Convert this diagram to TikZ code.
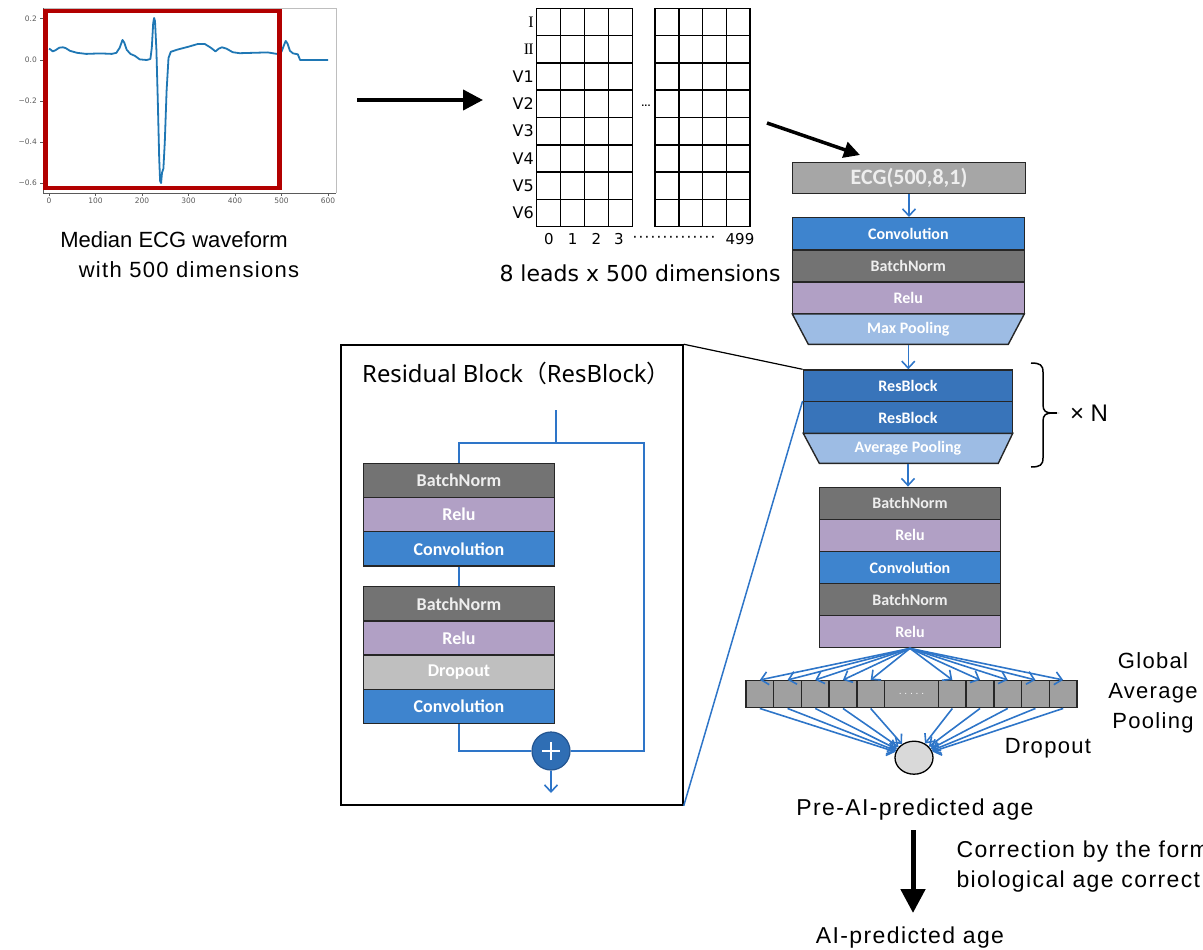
\documentclass[tikz,border=0pt]{standalone}
\usepackage{fontspec}
\setmainfont{Liberation Sans}
\newfontfamily\spaced{Liberation Sans}[LetterSpace=6]
\newfontfamily\verd{DejaVu Sans}
\newfontfamily\calib{Carlito}
\newfontfamily\latnoto{Noto Sans}
\newfontfamily\jpfont{Noto Sans CJK JP}
\newfontfamily\romanfont{Liberation Serif}
\usetikzlibrary{arrows.meta,shapes.geometric}
\newcommand\setfs[1]{\fontsize{#1}{#1}\selectfont}

\definecolor{convblue}{RGB}{62,132,206}
\definecolor{bngray}{RGB}{115,115,115}
\definecolor{bntext}{RGB}{238,238,238}
\definecolor{relupurple}{RGB}{177,160,197}
\definecolor{poolblue}{RGB}{157,188,228}
\definecolor{resblue}{RGB}{56,116,186}
\definecolor{dropgray}{RGB}{191,191,191}
\definecolor{ecggray}{RGB}{166,166,166}
\definecolor{cellgray}{RGB}{160,160,160}
\definecolor{linkblue}{RGB}{46,117,200}
\definecolor{plusblue}{RGB}{47,110,180}
\definecolor{plusedge}{RGB}{35,85,145}
\definecolor{edge}{RGB}{38,38,38}
\definecolor{boxred}{RGB}{178,0,0}
\definecolor{traceblue}{RGB}{31,119,180}
\definecolor{axisdark}{RGB}{90,90,90}
\definecolor{axislight}{RGB}{190,190,190}
\definecolor{neuron}{RGB}{217,217,217}

\begin{document}
\begin{tikzpicture}[x=1pt,y=-1pt,
  layer/.style={draw=edge, line width=1.4pt, inner sep=0pt, text=white,
                font=\calib\bfseries\setfs{16}},
  conv/.style={layer, fill=convblue},
  bnorm/.style={layer, fill=bngray, text=bntext},
  relu/.style={layer, fill=relupurple},
  resb/.style={layer, fill=resblue},
  dropl/.style={layer, fill=dropgray},
  plain/.style={inner sep=0pt},
  barb/.style={draw=linkblue, line width=1.6pt, -{Straight Barb[length=7pt,width=13pt]}},
  bline/.style={draw=linkblue, line width=1.8pt},
  bigarrow/.style={draw=black, line width=4pt, -{Triangle[length=20pt,width=20pt]}},
  cell/.style={draw=edge, fill=cellgray, line width=1.5pt, minimum width=27.7pt,
               minimum height=27pt, inner sep=0pt},
  lbl/.style={font=\spaced\setfs{22}},
  ticklbl/.style={font=\verd\setfs{7.5}, text=axisdark, inner sep=0pt},
  rowlbl/.style={font=\verd\setfs{16}, anchor=east, inner sep=0pt},
  collbl/.style={font=\verd\setfs{15}, inner sep=0pt},
  gridline/.style={draw=black, line width=1.5pt}
]
\useasboundingbox (0,0) rectangle (1203,950);
\clip (0,0) rectangle (1203,950);

% ---------- median ECG waveform plot ----------
\draw[axislight, line width=0.8pt] (43,8) -- (336,8) -- (336,193);
\draw[axisdark, line width=0.8pt] (43,8) -- (43,193) -- (336,193);
\foreach \yy/\tl [count=\k] in {18.3/0.2,60/0.0,101/−0.2,142/−0.4,183/−0.6}{
  \draw[axisdark, line width=0.8pt] (40,\yy) -- (43,\yy);
  \node[ticklbl, anchor=east] (ytick\k) at (37,\yy) {\tl};
}
\foreach \xx/\tl [count=\k] in {49/0,95.5/100,142/200,188.5/300,235/400,281.5/500,328/600}{
  \draw[axisdark, line width=0.8pt] (\xx,193) -- (\xx,196);
  \node[ticklbl, anchor=north] (xtick\k) at (\xx,198) {\tl};
}
\draw[traceblue, line width=1.8pt, line join=round] plot coordinates {
 (49,48.7) (50.9,49.75) (52.7,51.4) (55.5,50.2) (59.2,47.7) (63,47.3) (65.7,48.1)
 (69.9,50.8) (76.9,52.8) (86.2,53.9) (100.2,53.4) (111.8,53.9) (116.4,52.8)
 (119.7,47.7) (122.5,39.9) (124.3,42.6) (126.7,49.75) (130.4,53.9) (135,55.9)
 (139.7,59.4) (146.7,60) (150.4,59) (151.8,47.7) (153.2,23.1) (154.1,18) (155,21)
 (156.4,49.75) (157.8,101) (159.2,158.4) (160.1,181) (161.1,183) (162,172.75)
 (163.4,168.65) (164.8,142) (166.6,90.75) (168.5,58) (170.8,51.8) (176.9,49.75)
 (188.5,46.7) (197.8,44) (204.8,44) (210.8,47.7) (215.5,51.4) (218.7,48.7)
 (222,47.3) (226.6,48.7) (232.7,52.2) (239.7,53.2) (253.6,52.8) (267.6,52.4)
 (276.9,53.9) (281.5,51.8) (283.8,45.65) (285.7,40.9) (287.5,43.6) (289.9,50.8)
 (293.1,53.4) (297.8,54.3) (300.1,60) (328,60)};
\draw[boxred, line width=4.5pt] (45.5,11) rectangle (279.5,188);
\node[font=\setfs{22}] (cap1) at (174,240) {Median ECG waveform};
\node[lbl] (cap2) at (189,270) {with 500 dimensions};

% ---------- arrow to the lead matrix ----------
\coordinate (plotout) at (357,100);
\coordinate (gridin) at (483,100);
\draw[bigarrow] (plotout) -- (gridin);

% ---------- 8 x 500 lead matrix ----------
\foreach \i in {0,...,4}{
  \draw[gridline] (536.7+23.9*\i,8.3) -- (536.7+23.9*\i,226.7);
  \draw[gridline] (655+23.75*\i,8.3) -- (655+23.75*\i,226.7);
}
\foreach \j in {0,...,8}{
  \draw[gridline] (536.7,8.3+27.3*\j) -- (632.3,8.3+27.3*\j);
  \draw[gridline] (655,8.3+27.3*\j) -- (750,8.3+27.3*\j);
}
\foreach \lab [count=\k] in {{\romanfont\setfs{16}I},{\romanfont\setfs{16}I\kern-0.7pt I},V1,V2,V3,V4,V5,V6}{
  \node[rowlbl] (row\k) at (534,8.3+27.3*\k-13.65) {\lab};
}
\node[font=\verd\bfseries\setfs{8}, inner sep=0pt] (gapdots) at (646,106) {...};
\node[collbl] (n0) at (549,239) {0};
\node[collbl] (n1) at (572.6,239) {1};
\node[collbl] (n2) at (596.5,239) {2};
\node[collbl] (n3) at (619,239) {3};
\node[collbl] (coldots) at (674,239) {\hbox to 84pt{\leaders\hbox to 6pt{\hss·\hss}\hfill}};
\node[collbl] (n499) at (740,239) {499};
\node[font=\verd\setfs{22}] (leadcap) at (640,273) {8 leads x 500 dimensions};

\coordinate (gridout) at (767,123);
\coordinate (ecgin) at (860,155);
\draw[bigarrow, line width=3.5pt, -{Triangle[length=16pt,width=16pt]}] (gridout) -- (ecgin);

% ---------- main network column ----------
\node[layer, fill=ecggray, text=bntext, font=\calib\bfseries\setfs{22},
      minimum width=233.4pt, minimum height=31pt] (ecg) at (909,177.8) {ECG(500,8,1)};

\node[conv,  minimum width=232pt, minimum height=32.1pt] (conv1) at (908.3,233.75) {Convolution};
\node[bnorm, minimum width=232pt, minimum height=32.1pt] (bn1)   at (908.3,265.85) {BatchNorm};
\node[relu,  minimum width=232pt, minimum height=32.1pt] (relu1) at (908.3,297.95) {Relu};
\filldraw[fill=poolblue, draw=edge, line width=1.4pt]
  (792.3,314) -- (1024.3,314) -- (1008.3,344.3) -- (808.3,344.3) -- cycle;
\node[plain, text=white, font=\calib\bfseries\setfs{16}, minimum width=200pt,
      minimum height=30.3pt] (mpool) at (908.3,329.15) {Max Pooling};

\node[resb, minimum width=209.4pt, minimum height=31.7pt] (res1) at (908,385.85) {ResBlock};
\node[resb, minimum width=209.4pt, minimum height=31.7pt] (res2) at (908,417.55) {ResBlock};
\filldraw[fill=poolblue, draw=edge, line width=1.4pt]
  (803.3,433.4) -- (1012.7,433.4) -- (998.3,463.3) -- (819.3,463.3) -- cycle;
\node[plain, text=white, font=\calib\bfseries\setfs{16}, minimum width=170pt,
      minimum height=29.9pt] (apool) at (908,448.35) {Average Pooling};

\node[bnorm, minimum width=181.4pt, minimum height=32.08pt] (bn2)   at (910,503.34) {BatchNorm};
\node[relu,  minimum width=181.4pt, minimum height=32.08pt] (relu2) at (910,535.42) {Relu};
\node[conv,  minimum width=181.4pt, minimum height=32.08pt] (conv2) at (910,567.5)  {Convolution};
\node[bnorm, minimum width=181.4pt, minimum height=32.08pt] (bn3)   at (910,599.58) {BatchNorm};
\node[relu,  minimum width=181.4pt, minimum height=32.08pt] (relu3) at (910,631.66) {Relu};

\draw[barb] (ecg.south) -- (ecg.south |- conv1.north);
\draw[barb] (mpool.south) -- (mpool.south |- res1.north);
\draw[barb] (apool.south) -- (apool.south |- bn2.north);

% repeat brace
\draw[line width=1.5pt]
  (1031,363) .. controls (1040,363) and (1043,365) .. (1043,372) -- (1043,405)
  .. controls (1043,411) and (1046,413) .. (1052,413)
  .. controls (1046,413) and (1043,415) .. (1043,421) -- (1043,458)
  .. controls (1043,465) and (1040,467) .. (1031,467);
\draw[line width=1.5pt] (1050,413) -- (1057,413);
\node[font=\setfs{24}] (times) at (1089,413) {× N};

% ---------- global average pooling ----------
\foreach \i/\cx in {1/759.85,2/787.55,3/815.25,4/842.95,5/870.65,
                    6/952.35,7/980.05,8/1007.75,9/1035.45,10/1063.15}{
  \node[cell] (c\i) at (\cx,694.2) {};
}
\node[cell, minimum width=54pt, text=white, font=\verd\setfs{9}] (cmid) at (911.5,694.2)
  {\hbox to 28pt{\leaders\hbox to 5.6pt{\hss.\hss}\hfill}};
\node[ellipse, draw=black, line width=1.3pt, fill=neuron, minimum width=38pt,
      minimum height=33pt, inner sep=0pt] (neur) at (914,757.7) {};
\foreach \i in {1,...,10}{
  \draw[barb] (relu3.south) -- (c\i.north);
  \draw[barb] (c\i.south) -- (neur);
}
\node[lbl, align=center, font=\spaced\fontsize{22}{30}\selectfont] (gaplbl) at (1153,693)
  {Global\\Average\\Pooling};
\node[lbl] (droplbl) at (1048,748) {Dropout};

% ---------- output ----------
\node[lbl, font=\spaced\setfs{23}, anchor=base] (preage) at (915,815) {Pre-AI-predicted age};
\coordinate (corrtop) at (913,830);
\coordinate (corrbot) at (913,913);
\draw[bigarrow, line width=5pt, -{Triangle[length=24pt,width=24pt]}] (corrtop) -- (corrbot);
\node[lbl, font=\spaced\setfs{23}, anchor=base west] (corr1) at (953,857) {Correction by the form};
\node[lbl, font=\spaced\setfs{23}, anchor=base west] (corr2) at (953,887) {biological age correct};
\node[lbl, font=\spaced\setfs{23}, anchor=base] (aiage) at (910,943.5) {AI-predicted age};

% ---------- residual block detail ----------
\node[draw=black, line width=1.5pt, minimum width=342pt, minimum height=460pt,
      inner sep=0pt] (panel) at (512,575) {};
\node[anchor=west, font=\latnoto\setfs{23.8}, inner sep=0pt] (ptitle) at (362,373)
  {Residual Block{\jpfont （}ResBlock{\jpfont ）}};

\tikzset{pl/.style={minimum width=191pt, minimum height=34.2pt, font=\calib\bfseries\setfs{18}}}
\node[bnorm, pl] (pbn1)   at (459,480.4) {BatchNorm};
\node[relu,  pl] (prelu1) at (459,514.6) {Relu};
\node[conv,  pl] (pconv1) at (459,548.8) {Convolution};
\node[bnorm, pl] (pbn2)   at (459,603.8) {BatchNorm};
\node[relu,  pl] (prelu2) at (459,638.0) {Relu};
\node[dropl, pl] (pdrop)  at (459,672.2) {Dropout};
\node[conv,  pl] (pconv2) at (459,706.4) {Convolution};

\node[circle, fill=plusblue, draw=plusedge, line width=1.2pt, minimum size=38pt,
      inner sep=0pt,
      path picture={\draw[white, line width=2.8pt]
        ([xshift=-9pt]path picture bounding box.center) -- ([xshift=9pt]path picture bounding box.center)
        ([yshift=-9pt]path picture bounding box.center) -- ([yshift=9pt]path picture bounding box.center);}]
  (plus) at (551,751) {};

\coordinate (rin) at (556,410);
\coordinate (rsplit) at (556,443);
\coordinate (rright) at (644,751);
\coordinate (rout) at (551,793);
\draw[bline] (rin) -- (rsplit);
\draw[bline] (rsplit) -| (pbn1.north);
\draw[bline] (rsplit) -| (rright) -- (plus);
\draw[bline] (pconv1.south) -- (pbn2.north);
\draw[bline] (pconv2.south) |- (plus);
\draw[barb] (plus) -- (rout);

% zoom lines from the detail panel to the ResBlock layers
\draw[black, line width=1.2pt] (panel.north east) -- (res1.north west);
\draw[linkblue, line width=1.5pt] (panel.south east) -- (res2.north west);
\end{tikzpicture}
\end{document}
